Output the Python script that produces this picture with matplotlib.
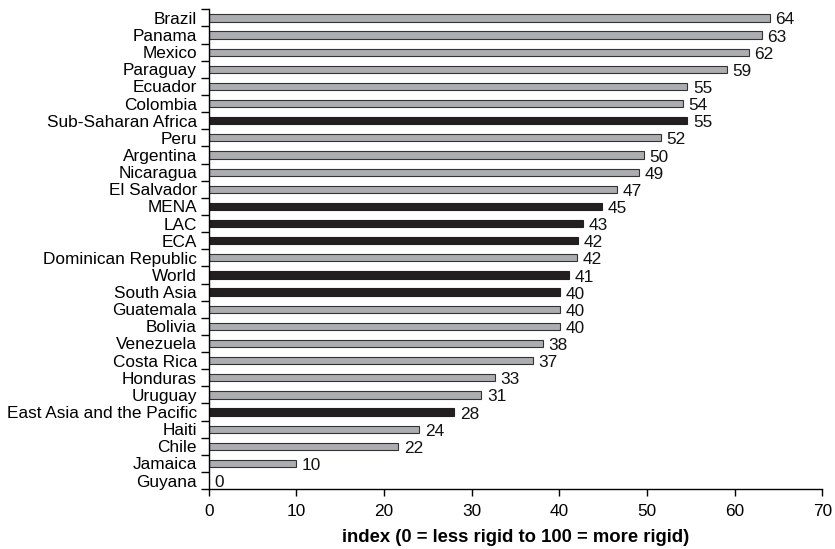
import matplotlib
matplotlib.use("Agg")
import matplotlib.pyplot as plt
import numpy as np

plt.rcParams['font.family'] = ['Liberation Sans', 'DejaVu Sans']

# 数据：从上到下
countries = ["Brazil", "Panama", "Mexico", "Paraguay", "Ecuador", "Colombia",
             "Sub-Saharan Africa", "Peru", "Argentina", "Nicaragua", "El Salvador",
             "MENA", "LAC", "ECA", "Dominican Republic", "World", "South Asia",
             "Guatemala", "Bolivia", "Venezuela", "Costa Rica", "Honduras", "Uruguay",
             "East Asia and the Pacific", "Haiti", "Chile", "Jamaica", "Guyana"]
values = [64.0, 63.1, 61.6, 59.1, 54.6, 54.1, 54.6, 51.6, 49.6, 49.1, 46.6,
          44.9, 42.7, 42.1, 42.05, 41.1, 40.1, 40.1, 40.1, 38.1, 37.0, 32.6, 31.1,
          28.0, 24.0, 21.6, 10.0, 0.0]
labels = [64, 63, 62, 59, 55, 54, 55, 52, 50, 49, 47, 45, 43, 42, 42, 41, 40,
          40, 40, 38, 37, 33, 31, 28, 24, 22, 10, 0]
regions = ["Sub-Saharan Africa", "MENA", "LAC", "ECA", "World", "South Asia",
           "East Asia and the Pacific"]

GREY = "#abadb0"
DARK = "#231f20"
FS = 12.4

fig = plt.figure(figsize=(8.35, 5.49), dpi=100)
ax = fig.add_axes([0.25, 0.109, 0.735, 0.874])

n = len(countries)
y = np.arange(n)
for yi, c, v, lab in zip(y, countries, values, labels):
    if c in regions:
        ax.barh(yi, v, height=0.42, color=DARK, edgecolor=DARK, linewidth=0.8)
    else:
        ax.barh(yi, v, height=0.42, color=GREY, edgecolor="#333333", linewidth=0.8)
    ax.annotate(str(lab), xy=(v, yi), xytext=(4, -1.5), textcoords="offset points",
                va="center", ha="left", fontsize=FS, color="#111111")

ax.set_ylim(n - 0.5, -0.5)
ax.set_xlim(0, 70)
ax.set_xticks(range(0, 71, 10))
ax.set_yticks(y)
ax.set_yticklabels(countries)
ax.set_yticks(np.arange(n + 1) - 0.5, minor=True)
ax.tick_params(axis="y", which="major", length=0, pad=8.5, labelsize=FS)
ax.tick_params(axis="y", which="minor", length=6, width=1, direction="out")
ax.tick_params(axis="x", length=5, width=1, pad=6, labelsize=FS)

for s in ["top", "right"]:
    ax.spines[s].set_visible(False)
ax.spines["left"].set_linewidth(1)
ax.spines["bottom"].set_linewidth(1)

ax.set_xlabel("index (0 = less rigid to 100 = more rigid)", fontsize=13.3,
              fontweight="bold", labelpad=7)

fig.savefig("out.png", dpi=100)
